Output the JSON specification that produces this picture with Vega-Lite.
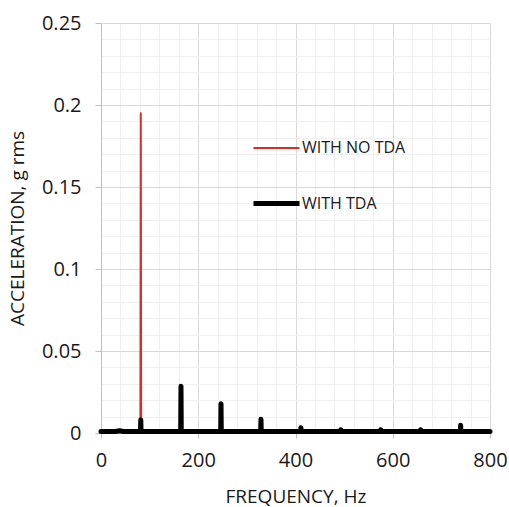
{
  "$schema": "https://vega.github.io/schema/vega-lite/v6.json",
  "width": 389,
  "height": 410,
  "autosize": "none",
  "padding": {"left": 101, "top": 23, "right": 19, "bottom": 74},
  "background": "white",
  "config": {
    "font": "Open Sans",
    "view": {"stroke": null},
    "axis": {"labelFont": "Open Sans", "titleFont": "Open Sans", "labelColor": "#1a1a1a", "titleColor": "#1a1a1a", "titleFontWeight": "normal"}
  },
  "data": {
    "values": [
      {"series": "WITH NO TDA", "f": 0, "a": 0.0009},
      {"series": "WITH NO TDA", "f": 81.0, "a": 0.0009},
      {"series": "WITH NO TDA", "f": 81.8, "a": 0.195},
      {"series": "WITH NO TDA", "f": 82.6, "a": 0.0009},
      {"series": "WITH NO TDA", "f": 800, "a": 0.0009},
      {"series": "WITH TDA", "f": 0, "a": 0.0009},
      {"series": "WITH TDA", "f": 30, "a": 0.0009},
      {"series": "WITH TDA", "f": 38, "a": 0.0014},
      {"series": "WITH TDA", "f": 46, "a": 0.0009},
      {"series": "WITH TDA", "f": 81.2, "a": 0.0009},
      {"series": "WITH TDA", "f": 81.8, "a": 0.008},
      {"series": "WITH TDA", "f": 82.4, "a": 0.0009},
      {"series": "WITH TDA", "f": 163.9, "a": 0.0009},
      {"series": "WITH TDA", "f": 164.5, "a": 0.0285},
      {"series": "WITH TDA", "f": 165.1, "a": 0.0009},
      {"series": "WITH TDA", "f": 246.2, "a": 0.0009},
      {"series": "WITH TDA", "f": 246.8, "a": 0.0179},
      {"series": "WITH TDA", "f": 247.4, "a": 0.0009},
      {"series": "WITH TDA", "f": 328.4, "a": 0.0009},
      {"series": "WITH TDA", "f": 329.0, "a": 0.0084},
      {"series": "WITH TDA", "f": 329.6, "a": 0.0009},
      {"series": "WITH TDA", "f": 410.5, "a": 0.0009},
      {"series": "WITH TDA", "f": 411.1, "a": 0.0032},
      {"series": "WITH TDA", "f": 411.7, "a": 0.0009},
      {"series": "WITH TDA", "f": 492.6, "a": 0.0009},
      {"series": "WITH TDA", "f": 493.2, "a": 0.002},
      {"series": "WITH TDA", "f": 493.8, "a": 0.0009},
      {"series": "WITH TDA", "f": 574.7, "a": 0.0009},
      {"series": "WITH TDA", "f": 575.3, "a": 0.002},
      {"series": "WITH TDA", "f": 575.9, "a": 0.0009},
      {"series": "WITH TDA", "f": 656.9, "a": 0.0009},
      {"series": "WITH TDA", "f": 657.5, "a": 0.002},
      {"series": "WITH TDA", "f": 658.1, "a": 0.0009},
      {"series": "WITH TDA", "f": 739.0, "a": 0.0009},
      {"series": "WITH TDA", "f": 739.6, "a": 0.0047},
      {"series": "WITH TDA", "f": 740.2, "a": 0.0009},
      {"series": "WITH TDA", "f": 800, "a": 0.0009}
    ]
  },
  "resolve": {"axis": {"x": "independent", "y": "independent"}},
  "layer": [
    {
      "transform": [{"filter": "datum.series === 'WITH NO TDA'"}],
      "mark": {"type": "line", "strokeCap": "round", "strokeJoin": "round"},
      "encoding": {
        "x": {"field": "f", "type": "quantitative", "scale": {"domain": [0, 800], "nice": false},
          "axis": {"orient": "bottom", "values": [0,40,80,120,160,200,240,280,320,360,400,440,480,520,560,600,640,680,720,760,800], "grid": true, "gridColor": "#efefef", "gridWidth": 1, "labels": false, "ticks": false, "domain": false, "title": null}},
        "y": {"field": "a", "type": "quantitative", "scale": {"domain": [0, 0.25], "nice": false},
          "axis": {"orient": "left", "values": [0,0.01,0.02,0.03,0.04,0.05,0.06,0.07,0.08,0.09,0.1,0.11,0.12,0.13,0.14,0.15,0.16,0.17,0.18,0.19,0.2,0.21,0.22,0.23,0.24,0.25], "grid": true, "gridColor": "#efefef", "gridWidth": 1, "labels": false, "ticks": false, "domain": false, "title": null}},
        "color": {"field": "series", "type": "nominal", "scale": {"domain": ["WITH NO TDA", "WITH TDA"], "range": ["#d42f29", "#000000"]},
          "legend": {"title": null, "orient": "none", "legendX": 150, "legendY": 101, "symbolType": "stroke", "symbolSize": 2116, "rowPadding": 22, "labelOffset": 0, "labelFontSize": 16, "labelFont": "Open Sans", "labelColor": "#1a1a1a", "padding": 0}},
        "strokeWidth": {"field": "series", "type": "nominal", "scale": {"domain": ["WITH NO TDA", "WITH TDA"], "range": [2, 5]},
          "legend": {"title": null, "orient": "none", "legendX": 150, "legendY": 101, "symbolType": "stroke", "symbolSize": 2116, "rowPadding": 22, "labelOffset": 0, "labelFontSize": 16, "labelFont": "Open Sans", "labelColor": "#1a1a1a", "padding": 0}}
      }
    },
    {
      "transform": [{"filter": "datum.series === 'WITH TDA'"}],
      "mark": {"type": "line", "strokeCap": "round", "strokeJoin": "round"},
      "encoding": {
        "x": {"field": "f", "type": "quantitative", "scale": {"domain": [0, 800], "nice": false},
          "axis": {"orient": "bottom", "values": [0, 200, 400, 600, 800], "grid": true, "gridColor": "#d9d9d9", "gridWidth": 1, "tickColor": "#bfbfbf", "tickSize": 5, "domainColor": "#bfbfbf", "labelFlush": false, "labelFontSize": 20, "labelPadding": 12, "title": "FREQUENCY, Hz", "titleFontSize": 19, "titlePadding": 17}},
        "y": {"field": "a", "type": "quantitative", "scale": {"domain": [0, 0.25], "nice": false},
          "axis": {"orient": "left", "values": [0, 0.05, 0.1, 0.15, 0.2, 0.25], "format": "~g", "grid": true, "gridColor": "#d9d9d9", "gridWidth": 1, "tickColor": "#bfbfbf", "tickSize": 6, "domainColor": "#bfbfbf", "labelFlush": false, "labelFontSize": 20, "labelPadding": 14, "title": "ACCELERATION, g rms", "titleFontSize": 19, "titlePadding": 14}},
        "color": {"field": "series", "type": "nominal", "scale": {"domain": ["WITH NO TDA", "WITH TDA"], "range": ["#d42f29", "#000000"]},
          "legend": {"title": null, "orient": "none", "legendX": 150, "legendY": 101, "symbolType": "stroke", "symbolSize": 2116, "rowPadding": 22, "labelOffset": 0, "labelFontSize": 16, "labelFont": "Open Sans", "labelColor": "#1a1a1a", "padding": 0}},
        "strokeWidth": {"field": "series", "type": "nominal", "scale": {"domain": ["WITH NO TDA", "WITH TDA"], "range": [2, 5]},
          "legend": {"title": null, "orient": "none", "legendX": 150, "legendY": 101, "symbolType": "stroke", "symbolSize": 2116, "rowPadding": 22, "labelOffset": 0, "labelFontSize": 16, "labelFont": "Open Sans", "labelColor": "#1a1a1a", "padding": 0}}
      }
    }
  ]
}
